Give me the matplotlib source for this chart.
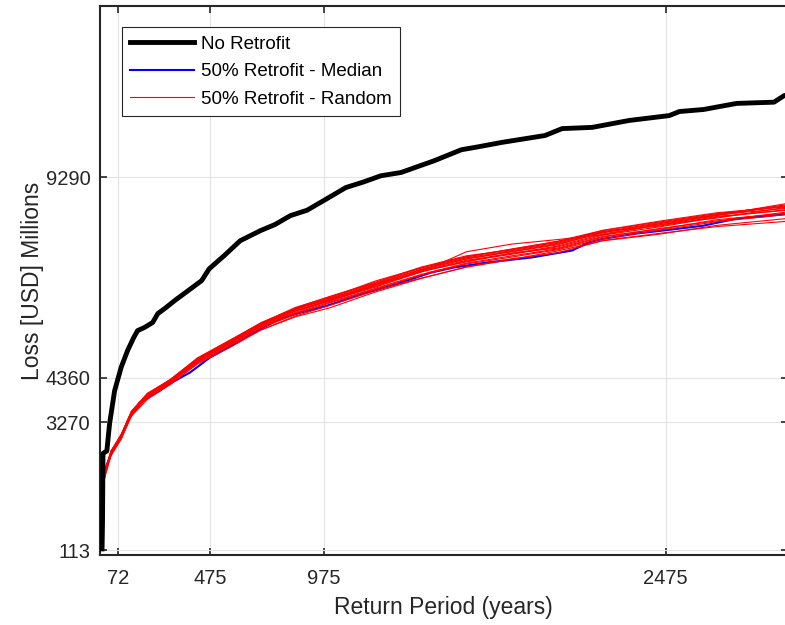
import matplotlib.pyplot as plt

# return period (years) and losses
x_none = [1, 3, 5, 22, 34, 56, 85, 113, 140, 157, 188, 223, 246, 280, 320, 378, 438, 471, 540, 607, 696, 760,
          828, 900, 974, 1071, 1150, 1225, 1313, 1459, 1578, 1650, 1755, 1945, 2020, 2152, 2314, 2490, 2535,
          2641, 2786, 2950, 2994, 3010]
y_none = [150, 800, 2500, 2560, 3230, 4040, 4620, 5030, 5350, 5520, 5600, 5720, 5940, 6080, 6260, 6500, 6750,
          7040, 7380, 7730, 7980, 8130, 8350, 8480, 8720, 9040, 9180, 9330, 9410, 9700, 9970, 10040, 10150,
          10320, 10490, 10520, 10690, 10810, 10910, 10960, 11110, 11140, 11300, 11320]

x_med = [1, 4, 8, 20, 48, 85, 114, 166, 254, 298, 387, 475, 540, 607, 681, 784, 858, 986, 1150, 1299,
         1446, 1547, 1696, 1887, 2064, 2137, 2196, 2342, 2490, 2638, 2786, 2900, 3010]
y_med = [800, 1340, 1830, 2200, 2570, 2890, 3300, 3750, 4040, 4215, 4490, 4860, 5060, 5270, 5520, 5810,
         5940, 6130, 6430, 6675, 6950, 7075, 7200, 7320, 7490, 7690, 7775, 7905, 8000, 8100, 8275, 8330, 8390]

x_rand = [1, 5, 12, 40, 85, 130, 200, 300, 420, 560, 700, 850, 1000, 1200, 1400, 1600, 1800, 2000, 2200,
          2450, 2700, 3010]
y_rand = [
    [800, 1500, 2010, 2520, 2920, 3490, 3940, 4270, 4800, 5230, 5670, 6040, 6310, 6680, 7010, 7290, 7470, 7650, 7930, 8155, 8370, 8530],
    [700, 1400, 1920, 2460, 2890, 3430, 3880, 4190, 4720, 5150, 5540, 5880, 6140, 6510, 6810, 7080, 7270, 7480, 7730, 7895, 8110, 8280],
    [850, 1530, 1990, 2540, 2940, 3510, 3960, 4320, 4830, 5270, 5720, 6070, 6290, 6630, 6960, 7460, 7650, 7760, 7880, 8125, 8350, 8600],
    [800, 1480, 2000, 2530, 2950, 3520, 3930, 4300, 4840, 5260, 5690, 6050, 6310, 6650, 7020, 7280, 7460, 7630, 7940, 8155, 8360, 8650],
    [650, 1350, 1890, 2440, 2850, 3420, 3830, 4200, 4700, 5100, 5540, 5860, 6080, 6470, 6800, 7090, 7290, 7430, 7740, 7915, 8080, 8210],
    [900, 1550, 2030, 2510, 2910, 3500, 3920, 4280, 4780, 5210, 5650, 6020, 6240, 6630, 6990, 7250, 7420, 7600, 7900, 8125, 8290, 8560],
    [750, 1450, 1970, 2490, 2930, 3470, 3910, 4260, 4760, 5190, 5630, 5970, 6260, 6590, 6960, 7230, 7400, 7580, 7870, 8075, 8310, 8500],
    [1000, 1600, 2050, 2540, 2940, 3520, 3960, 4290, 4820, 5250, 5700, 6080, 6360, 6710, 7080, 7360, 7510, 7690, 7980, 8195, 8400, 8580],
    [720, 1390, 1950, 2510, 2900, 3480, 3900, 4230, 4770, 5170, 5610, 5950, 6220, 6560, 6900, 7180, 7360, 7530, 7820, 8035, 8220, 8440],
    [850, 1570, 2020, 2530, 2960, 3510, 3950, 4310, 4810, 5240, 5680, 6060, 6330, 6740, 7060, 7330, 7530, 7710, 7960, 8095, 8330, 8480],
    [770, 1470, 1980, 2500, 2890, 3490, 3920, 4250, 4790, 5220, 5640, 6010, 6270, 6610, 6980, 7210, 7430, 7550, 7840, 8015, 8250, 8410],
    [950, 1530, 1990, 2550, 2950, 3530, 3940, 4270, 4810, 5200, 5660, 6000, 6280, 6660, 7030, 7310, 7490, 7670, 7950, 8175, 8380, 8620],
    [680, 1420, 1960, 2480, 2910, 3460, 3880, 4240, 4740, 5180, 5590, 5920, 6200, 6540, 6880, 7160, 7330, 7510, 7780, 7995, 8200, 8380],
    [800, 1510, 2040, 2560, 2970, 3540, 3980, 4310, 4850, 5280, 5710, 6090, 6350, 6690, 7060, 7340, 7520, 7720, 7990, 8215, 8420, 8570],
]

xticks = [72, 475, 975, 2475]
yticks = [113, 3270, 4360, 9290]

plt.rcParams['font.family'] = ['Liberation Sans', 'DejaVu Sans']
dark = '#262626'

fig = plt.figure(figsize=(7.85, 6.25), dpi=100)
ax = fig.add_axes([0.1274, 0.112, 0.876, 0.878])

for i, yr in enumerate(y_rand):
    ax.plot(x_rand, yr, color='red', lw=0.8, label='50% Retrofit - Random' if i == 0 else None, zorder=3)
ax.plot(x_med, y_med, color='blue', lw=1.5, zorder=2, label='50% Retrofit - Median')
ax.plot(x_none, y_none, color='black', lw=3.5, zorder=4, label='No Retrofit')

ax.set_xlim(-8, 3010)
ax.set_ylim(0, 13500)
ax.set_xticks(xticks)
ax.set_yticks(yticks)
ax.grid(True, color='#e3e3e3', lw=0.8)
ax.set_axisbelow(True)
ax.tick_params(direction='in', top=True, right=True, length=5, width=1.2,
               labelsize=14.5, colors=dark)
ax.tick_params(axis='x', pad=10)
ax.tick_params(axis='y', pad=7)
for s in ax.spines.values():
    s.set_color(dark)
    s.set_linewidth(1.5)

ax.set_xlabel('Return Period (years)', fontsize=16.5, color=dark, labelpad=6)
ax.set_ylabel('Loss [USD] Millions', fontsize=16.5, color=dark, labelpad=1)

h, l = ax.get_legend_handles_labels()
order = [l.index('No Retrofit'), l.index('50% Retrofit - Median'), l.index('50% Retrofit - Random')]
leg = ax.legend([h[i] for i in order], [l[i] for i in order], loc='upper left',
                bbox_to_anchor=(0.032, 0.962), fontsize=13.5, fancybox=False, framealpha=1,
                edgecolor=dark, borderpad=0.45, labelspacing=0.55, handlelength=3.4,
                handletextpad=0.35, borderaxespad=0)
leg.get_frame().set_linewidth(0.8)

plt.savefig('out.png', dpi=100)
